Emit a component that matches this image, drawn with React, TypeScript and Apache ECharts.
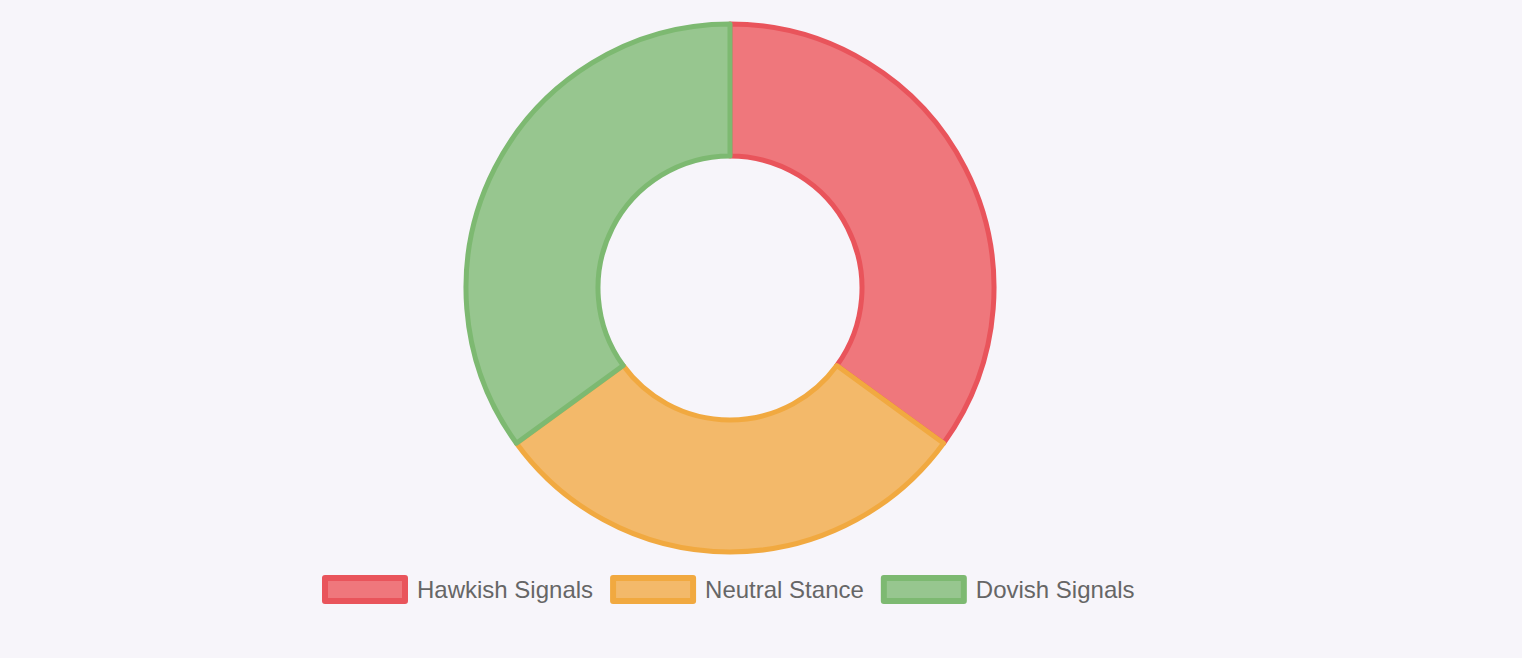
import React, { useEffect, useRef } from "react";
import * as echarts from "echarts";

const categories = ["Hawkish Signals", "Neutral Stance", "Dovish Signals"];
const values = [35, 30, 35];
const fillColors = ["#EF777C", "#F3B96A", "#97C68F"];
const borderColors = ["#E9545B", "#F1A940", "#7DB971"];

export default function App() {
  const ref = useRef<HTMLDivElement>(null);
  useEffect(() => {
    if (!ref.current) return;
    const chart = echarts.init(ref.current, undefined, { renderer: "svg" });
    chart.setOption({
      animation: false,
      backgroundColor: "#F7F5FA",
      legend: {
        left: 317,
        top: 570,
        itemWidth: 80,
        itemHeight: 23,
        itemGap: 17,
        icon: "rect",
        textStyle: {
          fontFamily: "Liberation Sans, Arial, sans-serif",
          fontSize: 24,
          color: "#666666",
          padding: [0, 0, 0, 7],
        },
        data: categories.map((name, i) => ({
          name,
          itemStyle: {
            color: fillColors[i],
            borderColor: borderColors[i],
            borderWidth: 6,
          },
        })),
      },
      series: [
        {
          type: "pie",
          center: [730, 288],
          radius: [132, 264],
          startAngle: 90,
          clockwise: true,
          label: { show: false },
          labelLine: { show: false },
          emphasis: { scale: false },
          data: categories.map((name, i) => ({
            name,
            value: values[i],
            itemStyle: {
              color: fillColors[i],
              borderColor: borderColors[i],
              borderWidth: 5,
            },
          })),
        },
      ],
    });
    return () => chart.dispose();
  }, []);
  return (
    <div
      ref={ref}
      style={{ position: "fixed", left: 0, top: 0, width: 1522, height: 658 }}
    />
  );
}
